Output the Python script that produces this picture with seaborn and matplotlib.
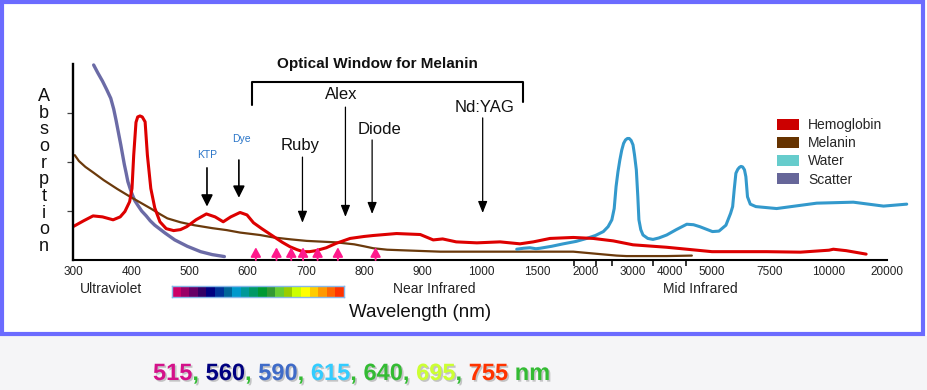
import numpy as np
import matplotlib
matplotlib.use("Agg")
import matplotlib.pyplot as plt
import matplotlib.patheffects as pe
from matplotlib.colors import ListedColormap
from matplotlib.patches import Patch, Rectangle
import seaborn as sns

# wavelength axis of the drawing is not linear: labelled ticks and where they sit
TICK_NM = [300, 400, 500, 600, 700, 800, 900, 1000, 1500, 2000, 3000, 4000, 5000, 7500, 10000, 20000, 30000]
TICK_POS = [73, 132, 189, 247, 306, 364, 422, 481, 537, 586, 633, 670, 712, 770, 829, 887, 945]
MINOR_NM = [1880, 2210, 2550, 3540, 4380, 20000]

HB_NM = [300, 318, 334, 350, 368, 380, 388, 396, 400, 403, 407, 410, 414, 418, 423, 427, 433, 440, 449, 460,
         473, 485, 496, 512, 530, 545, 559, 572, 588, 600, 611, 625, 645, 660, 673, 685, 695, 706, 717, 735,
         752, 776, 800, 816, 856, 897, 919, 935, 958, 993, 1170, 1348, 1467, 1633, 1870, 2155, 2580, 3000,
         3910, 5000, 7350, 8790, 10000, 10740, 13000, 16400]
HB_ABS = [0.68, 0.80, 0.90, 0.88, 0.82, 0.88, 0.99, 1.19, 1.46, 2.14, 2.81, 2.92, 2.94, 2.92, 2.82, 2.14, 1.46,
          1.06, 0.78, 0.64, 0.60, 0.62, 0.68, 0.82, 0.94, 0.88, 0.78, 0.88, 0.97, 0.92, 0.76, 0.64, 0.48, 0.36,
          0.27, 0.21, 0.17, 0.17, 0.19, 0.25, 0.34, 0.44, 0.48, 0.50, 0.54, 0.52, 0.41, 0.43, 0.37, 0.35, 0.37,
          0.33, 0.37, 0.44, 0.46, 0.44, 0.39, 0.31, 0.26, 0.17, 0.17, 0.16, 0.20, 0.22, 0.19, 0.12]

MEL_NM = [303, 310, 321, 335, 352, 375, 397, 415, 433, 450, 462, 485, 509, 540, 565, 588, 622, 645, 675, 701,
          752, 783, 800, 816, 840, 862, 931, 1020, 1460, 1870, 2300, 2650, 2860, 3910, 4520]
MEL_ABS = [2.14, 2.02, 1.90, 1.78, 1.63, 1.45, 1.29, 1.17, 1.05, 0.93, 0.85, 0.77, 0.71, 0.65, 0.61, 0.56, 0.51,
           0.46, 0.42, 0.39, 0.36, 0.32, 0.28, 0.24, 0.21, 0.20, 0.17, 0.17, 0.17, 0.17, 0.12, 0.09, 0.08, 0.08, 0.09]

WATER_NM = [1319, 1380, 1437, 1490, 1531, 1650, 1768, 1900, 2014, 2200, 2369, 2470, 2550, 2600, 2640, 2680,
            2720, 2760, 2800, 2840, 2880, 2920, 2960, 3000, 3040, 3090, 3130, 3160, 3210, 3270, 3400, 3540,
            3700, 3910, 4150, 4400, 4560, 4710, 5020, 5300, 5600, 5800, 5890, 5960, 6030, 6110, 6180, 6250,
            6320, 6400, 6460, 6530, 6650, 6890, 7780, 9480, 14200, 19400, 23400]
WATER_ABS = [0.22, 0.24, 0.25, 0.23, 0.24, 0.28, 0.33, 0.38, 0.44, 0.50, 0.58, 0.68, 0.82, 1.05, 1.50, 1.80,
             2.04, 2.24, 2.38, 2.45, 2.48, 2.48, 2.44, 2.35, 2.15, 1.84, 1.30, 0.82, 0.62, 0.51, 0.44, 0.42,
             0.45, 0.51, 0.62, 0.73, 0.72, 0.68, 0.58, 0.59, 0.71, 0.95, 1.09, 1.45, 1.77, 1.85, 1.89, 1.91,
             1.90, 1.84, 1.70, 1.29, 1.14, 1.09, 1.05, 1.16, 1.18, 1.10, 1.14]

SCAT_NM = [335, 342, 350, 357, 364, 369, 373, 377, 381, 384, 387, 390, 393, 397, 401, 405, 410, 417, 425, 432,
           440, 458, 475, 497, 520, 540, 561]
SCAT_ABS = [3.98, 3.82, 3.65, 3.48, 3.30, 3.08, 2.85, 2.60, 2.35, 2.15, 1.95, 1.78, 1.60, 1.45, 1.32, 1.21,
            1.12, 1.00, 0.90, 0.80, 0.71, 0.55, 0.41, 0.28, 0.17, 0.11, 0.07]

LASERS = ["KTP", "Dye", "Ruby", "Alex", "Diode", "Nd:YAG"]
LASER_NM = [531, 586, 694, 768, 814, 1015]
LASER_TOP = [1.88, 2.04, 2.10, 3.12, 2.45, 2.90]
LASER_TIP = [1.09, 1.27, 0.76, 0.88, 0.94, 0.96]
LASER_LABEL_NM = [531, 590, 690, 760, 827, 1036]
LASER_LABEL_Y = [2.14, 2.47, 2.33, 3.37, 2.67, 3.12]

PINK_NM = [615, 650, 675, 695, 720, 755, 820]
BOTTOM_NM = ["515", "560", "590", "615", "640", "695", "755"]
BOTTOM_COLORS = ["#d4118a", "#000080", "#3f6bc8", "#33ccff", "#33bb33", "#ccff33", "#ff3300"]

SPECTRUM = ["#cc0066", "#990066", "#660066", "#330066", "#000080", "#003399", "#006699", "#0099cc",
            "#009999", "#009966", "#009933", "#339933", "#66cc33", "#99cc00", "#ccff00", "#ffff00",
            "#ffcc00", "#ff9900", "#ff6600", "#ff3300"]

LEGEND_NAMES = ["Hemoglobin", "Melanin", "Water", "Scatter"]
LEGEND_COLORS = ["#cc0000", "#663300", "#66cccc", "#666699"]


def fwd(v):
    return np.interp(v, TICK_NM, TICK_POS)


def inv(p):
    return np.interp(p, TICK_POS, TICK_NM)


sns.set_style("white")
plt.rcParams["font.family"] = ["Liberation Sans", "DejaVu Sans"]

W, H = 927, 390
fig = plt.figure(figsize=(W / 100, H / 100), dpi=100)
fig.patch.set_facecolor("white")
fig.patches.append(Rectangle((0, 0), 1, (H - 336) / H, transform=fig.transFigure,
                             facecolor="#f5f5f7", edgecolor="none", zorder=0))
fig.patches.append(Rectangle((1.5 / W, 1 - 334 / H), (923 - 1.5) / W, (334 - 2) / H, transform=fig.transFigure,
                             fill=False, edgecolor="#6b6bff", lw=3, zorder=1))

ax = fig.add_axes([73 / W, (H - 260) / H, (915 - 73) / W, (260 - 34.6) / H])
ax.patch.set_alpha(0)

line_kw = dict(ax=ax, sort=False, estimator=None, solid_joinstyle="round", solid_capstyle="round")
sns.lineplot(x=SCAT_NM, y=SCAT_ABS, color="#6b6ba6", lw=2.4, **line_kw)
sns.lineplot(x=MEL_NM, y=MEL_ABS, color="#6b3a0c", lw=1.6, **line_kw)
sns.lineplot(x=WATER_NM, y=WATER_ABS, color="#3399cc", lw=2.2, **line_kw)
sns.lineplot(x=HB_NM, y=HB_ABS, color="#dd0000", lw=2.2, **line_kw)

ax.set_xscale("function", functions=(fwd, inv))
ax.set_xlim(300, 24828)
ax.set_ylim(0, 4.6)

sns.despine(ax=ax)
ax.spines["left"].set_bounds(0, 4)
ax.spines["bottom"].set_bounds(300, 20000)
ax.spines["left"].set_linewidth(1.7)
ax.spines["bottom"].set_linewidth(1.5)
ax.spines["left"].set_color("black")
ax.spines["bottom"].set_color("black")

ax.set_yticks([1, 2, 3])
ax.set_yticklabels([])
ax.tick_params(axis="y", length=4.5, width=0.9, color="#444444", direction="out", left=True)
ax.set_xticks(TICK_NM[:-1])
ax.set_xticklabels([str(t) for t in TICK_NM[:-1]])
ax.set_xticks(MINOR_NM, minor=True)
ax.tick_params(axis="x", which="major", length=0, pad=4.5, labelsize=8.5, labelcolor="#222222")
ax.tick_params(axis="x", which="minor", length=4.5, width=1.1, color="black", direction="out", bottom=True)
ax.set_xlabel("")
ax.set_ylabel("")

# laser arrows
for i, name in enumerate(LASERS):
    small = name in ("KTP", "Dye")
    style = "-|>,head_length=0.7,head_width=0.35" if small else "-|>,head_length=0.7,head_width=0.28"
    ax.annotate("", xy=(LASER_NM[i], LASER_TIP[i]), xytext=(LASER_NM[i], LASER_TOP[i]),
                arrowprops=dict(arrowstyle=style, lw=1.2 if small else 0.9, color="black",
                                shrinkA=0, shrinkB=0))
    ax.text(LASER_LABEL_NM[i], LASER_LABEL_Y[i], name, ha="center", va="center",
            fontsize=7.5 if small else 12, color="#2a75c8" if small else "#111111")

for nm in PINK_NM:
    ax.annotate("", xy=(nm, 0.26), xytext=(nm, 0.0),
                arrowprops=dict(arrowstyle="-|>,head_length=0.55,head_width=0.3", lw=1.4,
                                color="#ff1a8c", shrinkA=0, shrinkB=0))

# optical window bracket
ax.plot([608, 608, 1375, 1375], [3.16, 3.63, 3.63, 3.22], color="black", lw=1.5, clip_on=False)
ax.text(823, 4.0, "Optical Window for Melanin", ha="center", va="center", fontsize=11,
        fontweight="bold", color="#111111")

ax.text(364, -0.59, "Ultraviolet", ha="center", va="center", fontsize=10, color="#222222")
ax.text(920, -0.59, "Near Infrared", ha="center", va="center", fontsize=10, color="#222222")
ax.text(4730, -0.59, "Mid Infrared", ha="center", va="center", fontsize=10, color="#222222")
ax.text(897, -1.08, "Wavelength (nm)", ha="center", va="center", fontsize=13.5, color="#111111")

fig.text(44 / W, 1 - 171.5 / H, "\n".join("Absorption"), ha="center", va="center",
         fontsize=13, linespacing=0.97, color="#111111")

ax.legend([Patch(facecolor=c, edgecolor="none") for c in LEGEND_COLORS], LEGEND_NAMES,
          loc="upper left", bbox_to_anchor=(777 / W, 1 - 118 / H), bbox_transform=fig.transFigure,
          frameon=False, fontsize=10, handlelength=1.55, handleheight=0.85, handletextpad=0.7,
          labelspacing=0.3, borderpad=0, borderaxespad=0)

# visible spectrum strip
sax = fig.add_axes([172 / W, (H - 297) / H, (344 - 172) / W, 11 / H])
sax.imshow(np.arange(len(SPECTRUM))[None, :], cmap=ListedColormap(SPECTRUM), aspect="auto")
sax.set_xticks([])
sax.set_yticks([])
for s in sax.spines.values():
    s.set_color("#88b8e8")
    s.set_linewidth(1)

# coloured wavelength list at the bottom
renderer = fig.canvas.get_renderer()
pieces = []
for i, v in enumerate(BOTTOM_NM):
    pieces.append((v, BOTTOM_COLORS[i]))
    pieces.append((", " if i < len(BOTTOM_NM) - 1 else " ", "#33bb33"))
pieces.append(("nm", "#33bb33"))
x = 153 / W
shadow = [pe.SimplePatchShadow(offset=(1.2, -1.2), shadow_rgbFace="#888888", alpha=0.45), pe.Normal()]
for txt, col in pieces:
    t = fig.text(x, 1 - 380 / H, txt, ha="left", va="baseline", fontsize=17, fontweight="bold",
                 color=col, path_effects=shadow)
    bb = t.get_window_extent(renderer)
    x = bb.x1 / W

fig.savefig("out.png", dpi=100)
